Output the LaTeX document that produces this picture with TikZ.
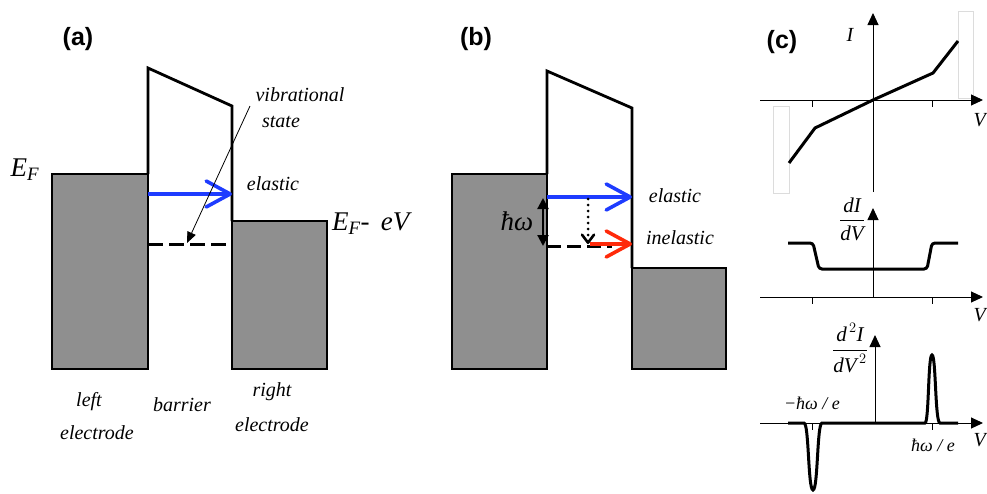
\documentclass[tikz,border=0pt]{standalone}
\usepackage{amsmath}
\usepackage{fontspec}
\setmainfont{Liberation Serif}
\setsansfont{Liberation Sans}
\usepackage{tikz}
\usetikzlibrary{arrows.meta}
\definecolor{egray}{HTML}{8F8F8F}
\definecolor{eblue}{HTML}{1E3CFF}
\definecolor{ered}{HTML}{FF2A0A}
\definecolor{eghost}{HTML}{DCDCDC}

\begin{document}
\begin{tikzpicture}[x=1pt,y=-1pt,line join=miter,
  lead/.style={draw=black,fill=egray,line width=2.8pt},
  band/.style={draw=black,line width=2.8pt},
  level/.style={draw=black,line width=3pt,dash pattern=on 15pt off 6pt},
  flow/.style={line width=3.6pt,-{Straight Barb[length=24pt,width=26pt,round]}},
  axis/.style={draw=black,line width=1pt,-{Triangle[length=12pt,width=11pt]}},
  curve/.style={draw=black,line width=3pt},
  tag/.style={font=\fontsize{25}{30}\selectfont\sffamily\bfseries,inner sep=0pt},
  lbl/.style={font=\fontsize{20}{23}\selectfont\itshape,inner sep=1pt},
  big/.style={font=\fontsize{27}{32}\selectfont\itshape,inner sep=1pt},
  frac/.style={font=\fontsize{21}{24}\selectfont,inner sep=1pt},
  tick/.style={font=\fontsize{18}{21}\selectfont\itshape,inner sep=1pt}]
\useasboundingbox (0,0) rectangle (987,493);

% ================= panel (a): elastic tunnelling =================
\begin{scope}
  \draw[lead] (52,174) rectangle (148,369);                  % left electrode
  \draw[lead] (232,221) rectangle (327,369);                 % right electrode
  \draw[band] (148,174) -- (148,68) -- (232,106) -- (232,221);
  \draw[level] (148,244) -- (232,244);
  % elastic channel
  \coordinate (inA) at (148,194);
  \coordinate (outA) at (232,194);
  \draw[eblue,flow] (inA) -- (outA);
  % pointer to the vibrational state
  \coordinate (vtail) at (250,106);
  \coordinate (vhead) at (187,243);
  \draw[line width=0.8pt,-{Triangle[length=11pt,width=9pt]}] (vtail) -- (vhead);
  \node[tag] (tagA) at (78,39) {(a)};
  \node[big] (efA) at (25,170) {E\textsubscript{F}};
  \node[big,anchor=west] (efev) at (331,224) {E\textsubscript{F}\upshape{}-\,\itshape{} eV};
  \node[lbl] (vib) at (300,95) {vibrational};
  \node[lbl] (vst) at (281,122) {state};
  \node[lbl] (elA) at (273,184) {elastic};
  \node[lbl] (lft) at (89,402) {left};
  \node[lbl] (lfte) at (97,433) {electrode};
  \node[lbl] (bar) at (182,405) {barrier};
  \node[lbl] (rgt) at (272,392) {right};
  \node[lbl] (rgte) at (272,425) {electrode};
\end{scope}

% ================= panel (b): inelastic tunnelling =================
\begin{scope}
  \draw[lead] (452,174) rectangle (547,369);
  \draw[lead] (632,268) rectangle (726,369);
  \draw[band] (547,174) -- (547,71) -- (632,108) -- (632,268);
  \draw[level,dash pattern=on 14pt off 6pt] (547,246) -- (612,246);
  \coordinate (inB) at (547,197);
  \coordinate (outB) at (632,197);
  \coordinate (loss) at (590,244);
  \coordinate (outR) at (632,244);
  \draw[eblue,flow] (inB) -- (outB);
  \draw[ered,flow] (loss) -- (outR);
  % energy given to the vibration
  \coordinate (dtop) at (588,199);
  \coordinate (dbot) at (588,244);
  \foreach \k in {0,...,6}
    \fill ([yshift=-6*\k pt]dtop) circle (1.5pt);
  \draw[line width=2.6pt,-{Straight Barb[length=8pt,width=12pt,round]}] ([yshift=4pt]dbot) -- (dbot);
  \coordinate (wtop) at (543,198);
  \coordinate (wbot) at (543,246);
  \draw[line width=2.2pt,{Triangle[length=11pt,width=11pt]}-{Triangle[length=11pt,width=11pt]}] (wtop) -- (wbot);
  \node[tag] (tagB) at (476,39) {(b)};
  \node[big] (hw) at (517,221) {ħω};
  \node[lbl] (elB) at (675,196) {elastic};
  \node[lbl] (inel) at (680,238) {inelastic};
\end{scope}

% ================= panel (c): I, dI/dV and d2I/dV2 =================
\begin{scope}
  % current
  \draw[eghost,line width=0.7pt] (773,106) rectangle (789,193);
  \draw[eghost,line width=0.7pt] (958,11) rectangle (973,98);
  \draw[axis] (760,100) -- (983,100);
  \draw[axis] (873,192) -- (873,13);
  \draw[line width=1pt] (812,100) -- (812,107) (932,100) -- (932,107);
  \draw[curve] (789,163) -- (815,128) -- (873,100) -- (933,73) -- (958,41);
  \node[tag] (tagC) at (782,42) {(c)};
  \node[lbl] (ilab) at (850,35) {I};
  \node[lbl,anchor=east,inner sep=0pt] (v1) at (986,120) {V};
  % conductance
  \draw[axis] (760,297) -- (983,297);
  \draw[axis] (873,297) -- (873,208);
  \draw[line width=1pt] (812,297) -- (812,304) (932,297) -- (932,304);
  \draw[curve,rounded corners=3pt] (788,243) -- (813,243) -- (819,269) -- (927,269) -- (932,243) -- (958,243);
  \node[frac] (didv) at (852,219) {$\dfrac{\textit{dI}}{\textit{dV}}$};
  \node[lbl,anchor=east,inner sep=0pt] (v2) at (986,315) {V};
  % second derivative
  \draw[axis] (760,423) -- (983,423);
  \draw[axis] (875,423) -- (875,335);
  \draw[line width=1pt] (812,423) -- (812,430) (932,423) -- (932,430);
  \draw[curve] (788,423) -- (804,423) .. controls (809,423) and (808,490) .. (813,490)
    .. controls (818,490) and (817,423) .. (822,423) -- (925,423)
    .. controls (929,423) and (928,355) .. (932,355)
    .. controls (936,355) and (935,423) .. (940,423) -- (958,423);
  \node[frac] (d2i) at (850,348) {$\dfrac{\textit{d}^{\,2}\textit{I}}{\textit{dV}^{\,2}}$};
  \node[tick] (mhw) at (812,403) {−ħω / e};
  \node[tick] (phw) at (933,445) {ħω / e};
  \node[lbl,anchor=east,inner sep=0pt] (v3) at (986,440) {V};
\end{scope}
\end{tikzpicture}
\end{document}
